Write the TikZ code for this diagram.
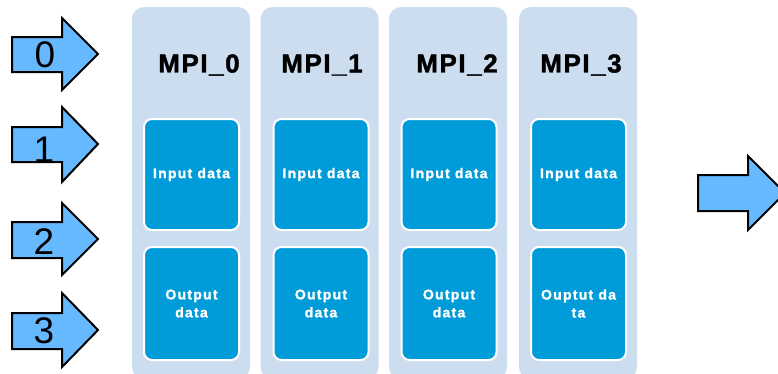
\documentclass[tikz,border=0pt]{standalone}
\usepackage{fontspec}
\setmainfont{Liberation Sans}
\newfontfamily\mpifont[LetterSpace=6,FakeBold=1.5]{Liberation Sans Bold}
\newfontfamily\boxfont[LetterSpace=9,FakeBold=1.5]{Liberation Sans Bold}
\definecolor{colbg}{HTML}{CCDDF0}
\definecolor{boxblue}{HTML}{009CD9}
\definecolor{arrowblue}{HTML}{66B8FF}
\tikzset{
  colbox/.style={fill=colbg, draw=none, rounded corners=12pt, minimum width=118pt, minimum height=372pt, inner sep=0pt},
  databox/.style={fill=boxblue, draw=white, line width=2pt, rounded corners=8pt, minimum width=95pt, inner sep=0pt, text=white, align=center, font=\boxfont\fontsize{14}{18}\selectfont},
  mpilabel/.style={font=\mpifont\fontsize{26}{30}\selectfont, inner sep=0pt},
  bigarrow/.style={fill=arrowblue, draw=black, line width=2pt, line join=miter},
  numlabel/.style={font=\fontsize{37}{40}\selectfont, inner sep=0pt}
}
\begin{document}
\begin{tikzpicture}[x=1pt,y=-1pt]
\useasboundingbox (0,0) rectangle (778,373);
\begin{scope}
\clip (0,0) rectangle (778,373);
% columns
\node[colbox] (c0) at (191,193) {};
\node[colbox] (c1) at (319.5,193) {};
\node[colbox] (c2) at (448,193) {};
\node[colbox] (c3) at (578,193) {};
% labels
\node[mpilabel] (m0) at (199,65) {MPI\_0};
\node[mpilabel] (m1) at (322,65) {MPI\_1};
\node[mpilabel] (m2) at (457,65) {MPI\_2};
\node[mpilabel] (m3) at (581,65) {MPI\_3};
% input boxes
\node[databox, minimum height=111pt] (i0) at (191.5,174.5) {Input data};
\node[databox, minimum height=111pt] (i1) at (321,174.5) {Input data};
\node[databox, minimum height=111pt] (i2) at (449,174.5) {Input data};
\node[databox, minimum height=111pt] (i3) at (578.5,174.5) {Input data};
% output boxes
\node[databox, minimum height=113pt] (o0) at (191.5,303.5) {Output\\data};
\node[databox, minimum height=113pt] (o1) at (321,303.5) {Output\\data};
\node[databox, minimum height=113pt] (o2) at (449,303.5) {Output\\data};
\node[databox, minimum height=113pt] (o3) at (578.5,303.5) {Ouptut da\\ta};
% left arrows
\draw[bigarrow] (12,37) -- (62,37) -- (62,18) -- (98,54) -- (62,90) -- (62,72) -- (12,72) -- cycle;
\draw[bigarrow] (12,127) -- (62,127) -- (62,107) -- (98,144) -- (62,182) -- (62,162) -- (12,162) -- cycle;
\draw[bigarrow] (12,222) -- (62,222) -- (62,203) -- (98,239) -- (62,275) -- (62,258) -- (12,258) -- cycle;
\draw[bigarrow] (12,313) -- (62,313) -- (62,293) -- (98,330) -- (62,367) -- (62,349) -- (12,349) -- cycle;
\node[numlabel] (n0) at (45,55) {0};
\node[numlabel] (n1) at (44,150) {1};
\node[numlabel] (n2) at (44,242) {2};
\node[numlabel] (n3) at (44,331) {3};
% right arrow
\draw[bigarrow] (698,175) -- (748,175) -- (748,156) -- (785,193) -- (748,230) -- (748,211) -- (698,211) -- cycle;
\end{scope}
\end{tikzpicture}
\end{document}
